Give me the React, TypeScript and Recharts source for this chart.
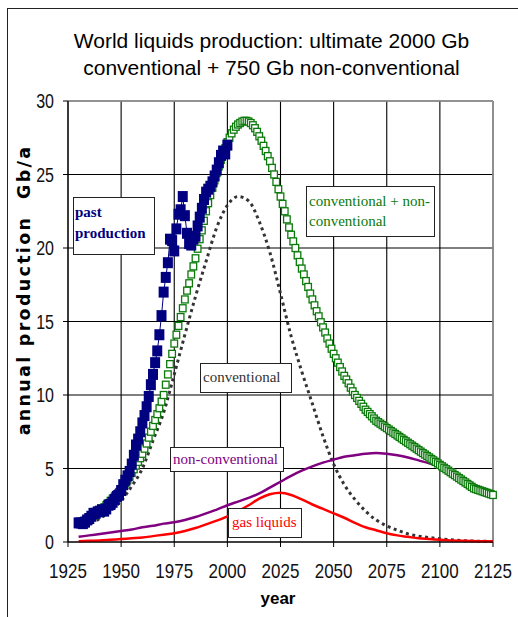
import React from 'react';
import { LineChart, Line, XAxis, YAxis, CartesianGrid, ReferenceLine } from 'recharts';

const xTicks = [1925, 1950, 1975, 2000, 2025, 2050, 2075, 2100, 2125];
const yTicks = [0, 5, 10, 15, 20, 25, 30];

// past production, one value per year from 1930
const pastStart = 1930;
const pastProduction = [
  1.3, 1.3, 1.25, 1.35, 1.5, 1.6, 1.75, 1.95, 1.95, 2.05,
  2.1, 2.2, 2.1, 2.25, 2.5, 2.55, 2.7, 2.9, 3.1, 3.2,
  3.5, 3.9, 4.2, 4.5, 4.8, 5.3, 5.9, 6.6, 7.0, 7.5,
  8.1, 8.6, 9.2, 9.9, 10.7, 11.4, 12.2, 13.0, 14.1, 15.4,
  17.0, 18.0, 19.0, 20.6, 20.5, 19.8, 21.3, 22.3, 22.6, 23.5,
  22.2, 21.0, 20.3, 20.2, 20.6, 20.8, 21.5, 22.1, 22.7, 23.3,
  23.8, 24.0, 24.2, 24.5, 24.9, 25.3, 25.8, 26.3, 26.6, 26.4,
  27.0,
];

// conventional + non-conventional, one value per year from 1930
const totalStart = 1930;
const totalProduction = [
  1.3, 1.35, 1.4, 1.45, 1.5, 1.6, 1.7, 1.8, 1.9, 2.0,
  2.1, 2.2, 2.35, 2.5, 2.65, 2.8, 2.95, 3.1, 3.25, 3.4,
  3.6, 3.8, 4.0, 4.2, 4.45, 4.7, 4.95, 5.2, 5.45, 5.7,
  6.0, 6.35, 6.7, 7.1, 7.5, 7.9, 8.3, 8.7, 9.1, 9.55,
  10.0, 10.7, 11.4, 12.1, 12.8, 13.5, 14.1, 14.7, 15.3, 15.9,
  16.5, 17.1, 17.6, 18.2, 18.75, 19.3, 19.95, 20.6, 21.2, 21.85,
  22.5, 23.05, 23.6, 24.1, 24.6, 25.1, 25.55, 26.0, 26.4, 26.8,
  27.2, 27.5, 27.8, 28.05, 28.25, 28.4, 28.5, 28.6, 28.65, 28.65,
  28.6, 28.5, 28.35, 28.15, 27.9, 27.6, 27.3, 26.95, 26.6, 26.25,
  25.9, 25.45, 25.0, 24.5, 24.0, 23.5, 23.0, 22.5, 21.95, 21.4,
  20.9, 20.45, 20.0, 19.5, 19.05, 18.6, 18.2, 17.75, 17.35, 16.9,
  16.5, 16.1, 15.7, 15.35, 14.95, 14.6, 14.25, 13.85, 13.5, 13.15,
  12.8, 12.5, 12.2, 11.9, 11.6, 11.3, 11.05, 10.8, 10.5, 10.25,
  10.0, 9.8, 9.6, 9.4, 9.2, 9.0, 8.85, 8.7, 8.55, 8.4,
  8.25, 8.15, 8.05, 7.95, 7.85, 7.75, 7.65, 7.55, 7.45, 7.35,
  7.25, 7.15, 7.05, 6.95, 6.85, 6.75, 6.65, 6.55, 6.45, 6.35,
  6.25, 6.15, 6.05, 5.95, 5.85, 5.75, 5.65, 5.55, 5.45, 5.35,
  5.25, 5.15, 5.05, 4.95, 4.85, 4.75, 4.65, 4.55, 4.45, 4.35,
  4.25, 4.15, 4.05, 3.95, 3.85, 3.75, 3.65, 3.6, 3.55, 3.5,
  3.45, 3.4, 3.35, 3.3, 3.25, 3.2,
];

// model curves, every 5 years
const modelYears = [
  1930, 1935, 1940, 1945, 1950, 1955, 1960, 1965, 1970, 1975,
  1980, 1985, 1990, 1995, 2000, 2005, 2010, 2015, 2020, 2025,
  2030, 2035, 2040, 2045, 2050, 2055, 2060, 2065, 2070, 2075,
  2080, 2085, 2090, 2095, 2100, 2105, 2110, 2115, 2120, 2125,
];
const conventional = [
  1.0, 1.2, 1.6, 2.1, 2.8, 3.8, 5.0, 6.9, 8.8, 11.4,
  14.1, 16.7, 19.1, 21.4, 22.9, 23.5, 23.2, 21.8, 19.7, 16.9,
  14.0, 11.6, 9.4, 7.2, 5.3, 3.9, 2.9, 2.1, 1.5, 1.1,
  0.8, 0.55, 0.4, 0.3, 0.22, 0.15, 0.1, 0.07, 0.05, 0.04,
];
const nonConventional = [
  0.35, 0.45, 0.55, 0.65, 0.75, 0.85, 1.0, 1.1, 1.25, 1.35,
  1.5, 1.7, 1.95, 2.2, 2.5, 2.75, 3.0, 3.3, 3.7, 4.1,
  4.5, 4.85, 5.15, 5.4, 5.6, 5.8, 5.9, 6.0, 6.05, 6.0,
  5.9, 5.75, 5.55, 5.35, 5.1, 4.75, 4.4, 4.0, 3.6, 3.2,
];
const gasLiquids = [
  0.05, 0.08, 0.1, 0.15, 0.2, 0.25, 0.3, 0.4, 0.5, 0.6,
  0.75, 0.95, 1.2, 1.45, 1.75, 2.1, 2.5, 2.95, 3.25, 3.35,
  3.2, 2.9, 2.55, 2.25, 1.95, 1.65, 1.3, 1.0, 0.8, 0.6,
  0.45, 0.35, 0.25, 0.2, 0.15, 0.1, 0.08, 0.06, 0.05, 0.04,
];

const pastData = pastProduction.map((v, i) => ({ year: pastStart + i, v }));
const totalData = totalProduction.map((v, i) => ({ year: totalStart + i, v }));
const convData = modelYears.map((year, i) => ({ year, v: conventional[i] }));
const nonConvData = modelYears.map((year, i) => ({ year, v: nonConventional[i] }));
const gasData = modelYears.map((year, i) => ({ year, v: gasLiquids[i] }));

const sans = '"Liberation Sans", Arial, sans-serif';
const serif = '"Liberation Serif", "DejaVu Serif", serif';

// tall, narrow tick digits like the original
const XTick = (p: any) => (
  <g transform={`translate(${p.x},${p.y})`}>
    <text x={0} y={0} dy={20.5} textAnchor="middle" fontFamily={sans} fontSize={17}
      fill="#111" transform="scale(1,1.2)">{p.payload.value}</text>
  </g>
);
const YTick = (p: any) => (
  <g transform={`translate(${p.x},${p.y})`}>
    <text x={0} y={0} dy={5.6} textAnchor="end" fontFamily={sans} fontSize={16}
      fill="#111" transform="scale(1,1.25)">{p.payload.value}</text>
  </g>
);

const NavySquare = (p: any) => (
  <rect key={`p-${p.index}`} x={p.cx - 5} y={p.cy - 5.5} width={10} height={11} fill="#000080" />
);
const GreenSquare = (p: any) => (
  <rect key={`t-${p.index}`} x={p.cx - 3.3} y={p.cy - 3.5} width={6.6} height={7}
    fill="#fff" stroke="#0b7a0b" strokeWidth={1.3} />
);

const boxStyle: React.CSSProperties = {
  position: 'absolute',
  background: '#fff',
  border: '1.5px solid #222',
  boxSizing: 'border-box',
  fontFamily: serif,
  fontSize: 15,
  whiteSpace: 'nowrap',
};

export default function App() {
  return (
    <div style={{ position: 'absolute', left: 0, top: 0, width: 518, height: 617, background: '#fff', overflow: 'hidden' }}>
      <div style={{ position: 'absolute', left: 7, top: 8, width: 530, height: 630, borderLeft: '1.5px solid #222', borderTop: '1.5px solid #222' }} />
      <div style={{ position: 'absolute', left: 0, width: 543, top: 27, textAlign: 'center', fontFamily: sans, fontSize: 21, lineHeight: '27px', color: '#000' }}>
        World liquids production: ultimate 2000 Gb<br />conventional + 750 Gb non-conventional
      </div>
      <LineChart width={518} height={617} margin={{ top: 101, right: 25, bottom: 45, left: 8 }}>
        <CartesianGrid stroke="#000" strokeWidth={1.1} />
        <XAxis type="number" dataKey="year" domain={[1925, 2125]} ticks={xTicks} height={30}
          tickSize={5} tickMargin={6} stroke="#000" interval={0} tick={XTick} />
        <YAxis type="number" domain={[0, 30]} ticks={yTicks} width={60}
          tickSize={5} tickMargin={9} stroke="#000" interval={0} tick={YTick} />
        <ReferenceLine y={30} stroke="#999" strokeWidth={1.5} />
        <ReferenceLine x={2125} stroke="#999" strokeWidth={1.5} />
        <Line data={totalData} dataKey="v" stroke="none" dot={GreenSquare} isAnimationActive={false} />
        <Line data={convData} dataKey="v" type="monotone" stroke="#333" strokeWidth={3}
          strokeDasharray="3 3.5" dot={false} isAnimationActive={false} />
        <Line data={nonConvData} dataKey="v" type="monotone" stroke="#800080" strokeWidth={2.5}
          dot={false} isAnimationActive={false} />
        <Line data={gasData} dataKey="v" type="monotone" stroke="#ff0000" strokeWidth={2.5}
          dot={false} isAnimationActive={false} />
        <Line data={pastData} dataKey="v" stroke="#000080" strokeWidth={1} dot={NavySquare}
          isAnimationActive={false} />
      </LineChart>
      <div style={{ position: 'absolute', left: 0, top: 589, width: 556, textAlign: 'center', fontFamily: sans, fontWeight: 'bold', fontSize: 17 }}>
        year
      </div>
      <div style={{ position: 'absolute', left: 24, top: 290, transform: 'translate(-50%, -50%) rotate(-90deg)', whiteSpace: 'pre', fontFamily: '"DejaVu Sans", sans-serif', fontWeight: 'bold', fontSize: 17.5, letterSpacing: 2.3 }}>
        annual production  Gb/a
      </div>
      <div style={{ ...boxStyle, left: 73, top: 197, width: 82, height: 58, color: '#000080', fontWeight: 'bold', lineHeight: '21px', padding: '4px 0 0 1px' }}>
        past<br />production
      </div>
      <div style={{ ...boxStyle, left: 306, top: 186, width: 129, height: 51, color: '#0b7a0b', lineHeight: '20px', padding: '4px 0 0 2px' }}>
        conventional + non-<br />conventional
      </div>
      <div style={{ ...boxStyle, left: 200, top: 363, width: 92, height: 30, color: '#333', lineHeight: '26px', paddingLeft: 2 }}>
        conventional
      </div>
      <div style={{ ...boxStyle, left: 170, top: 447, width: 114, height: 25, color: '#800080', lineHeight: '22px', paddingLeft: 2 }}>
        non-conventional
      </div>
      <div style={{ ...boxStyle, left: 228, top: 508, width: 74, height: 30, color: '#ff0000', lineHeight: '26px', paddingLeft: 3 }}>
        gas liquids
      </div>
    </div>
  );
}
